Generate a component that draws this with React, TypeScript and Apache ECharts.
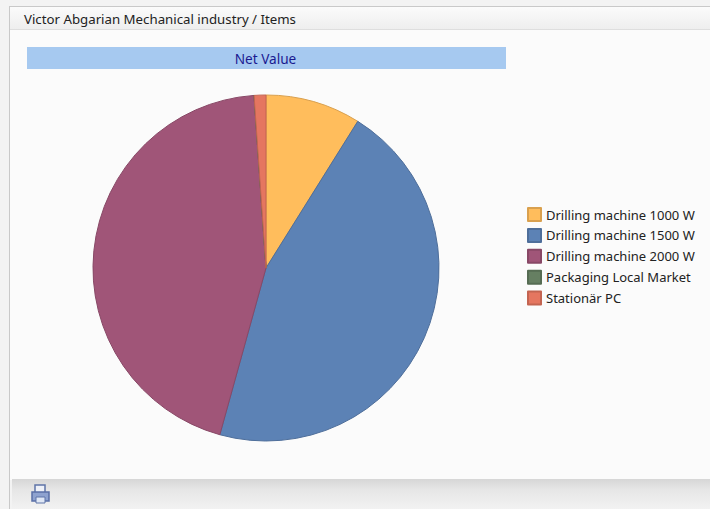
import React, { useEffect, useRef } from "react";
import * as echarts from "echarts";

const headerTitle = "Victor Abgarian Mechanical industry / Items";
const chartTitle = "Net Value";
const categories = [
  "Drilling machine 1000 W",
  "Drilling machine 1500 W",
  "Drilling machine 2000 W",
  "Packaging Local Market",
  "Stationär PC",
];
const values = [8.9, 45.4, 44.6, 0, 1.1];
const colors = ["#ffbd5c", "#5c82b5", "#a05578", "#667f62", "#e57660"];
const borders = ["#d9a04e", "#4e6e9a", "#884866", "#566c53", "#c36451"];

const FONT = "'Noto Sans', sans-serif";

const vGrad = (stops: [number, string][]) =>
  new echarts.graphic.LinearGradient(0, 0, 0, 1, stops.map(([offset, color]) => ({ offset, color })));

export default function App() {
  const ref = useRef<HTMLDivElement>(null);
  useEffect(() => {
    document.body.style.margin = "0";
    const chart = echarts.init(ref.current!, null, { renderer: "svg" });
    const r = (x: number, y: number, w: number, h: number, fill: any, extra: any = {}) => ({
      type: "rect",
      shape: { x, y, width: w, height: h },
      style: { fill, ...extra },
      silent: true,
      z: -10,
    });
    chart.setOption({
      animation: false,
      backgroundColor: "#f3f3f3",
      title: [
        {
          text: headerTitle,
          left: 24,
          top: 12,
          padding: 0,
          textStyle: { fontFamily: FONT, fontSize: 13.25, fontWeight: "normal", color: "#222222" },
        },
        {
          text: chartTitle,
          left: 265.5,
          top: 51,
          padding: 0,
          textAlign: "center",
          textStyle: { fontFamily: FONT, fontSize: 13.6, fontWeight: "normal", color: "#1a1a90" },
        },
      ],
      legend: {
        orient: "vertical",
        left: 527,
        top: 207,
        padding: 0,
        itemWidth: 13,
        itemHeight: 13,
        itemGap: 5.9,
        selectedMode: false,
        icon: "rect",
        data: categories,
        textStyle: { fontFamily: FONT, fontSize: 13, color: "#222222" },
      },
      graphic: [
        r(9, 6, 701, 503, "#c9c9c9"),
        r(10, 7, 700, 502, "#fbfbfb"),
        r(10, 7, 700, 22, vGrad([[0, "#fbfbfb"], [1, "#eeeeee"]])),
        r(10, 29, 700, 1, "#dedede"),
        r(10, 480, 2, 29, "#f3f3f3"),
        r(12, 479, 698, 30, vGrad([[0, "#d6d6d6"], [0.35, "#e6e6e6"], [1, "#f2f2f2"]])),
        r(27, 47, 479, 22, "#a6c9f0"),
        r(35, 485, 10, 10, "#eef1f8", { stroke: "#5f74a8", lineWidth: 1.5 }),
        r(32, 492, 17, 9, "#8ea2cf", { stroke: "#5a6fa6", lineWidth: 1.5 }),
        r(36, 497, 9, 6, "#dfe7f5", { stroke: "#5f74a8", lineWidth: 1 }),
      ],
      series: [
        {
          type: "pie",
          center: [266, 268],
          radius: [0, 173],
          startAngle: 90,
          clockwise: true,
          label: { show: false },
          labelLine: { show: false },
          silent: true,
          data: categories.map((name, i) => ({
            name,
            value: values[i],
            itemStyle: { color: colors[i], borderColor: borders[i], borderWidth: 1 },
          })),
        },
      ],
    });
    return () => chart.dispose();
  }, []);
  return <div ref={ref} style={{ width: 710, height: 509 }} />;
}
